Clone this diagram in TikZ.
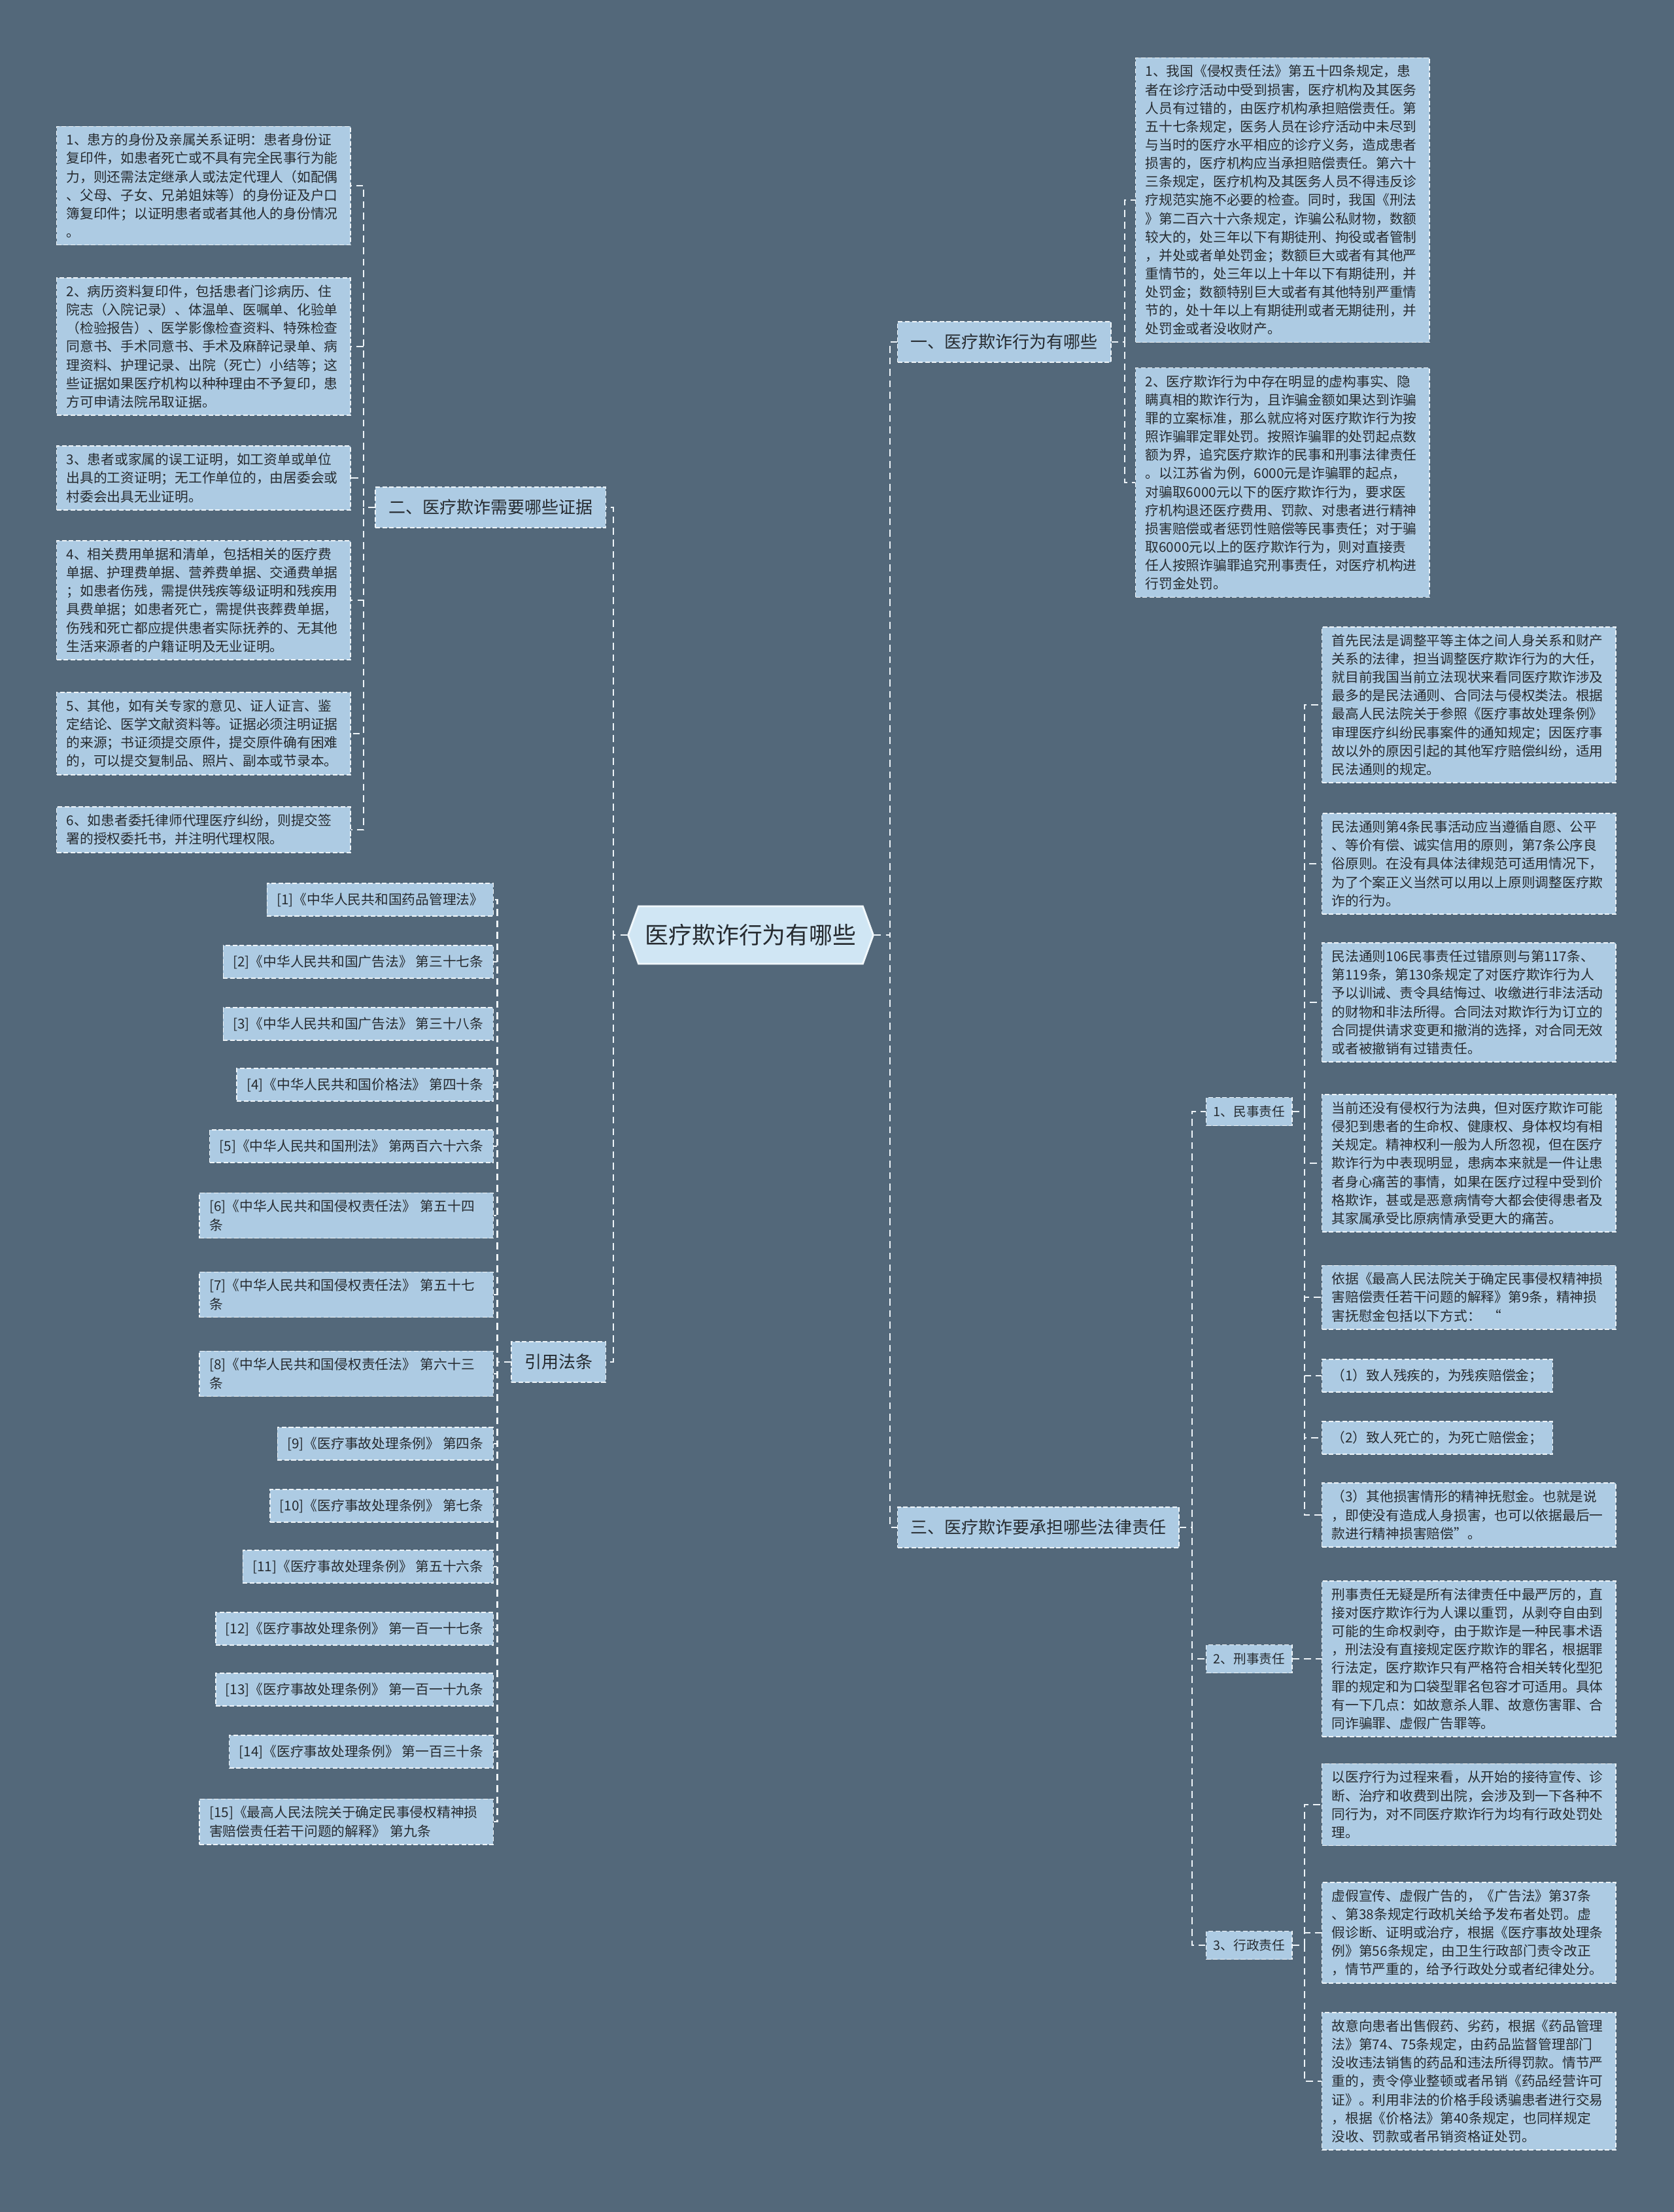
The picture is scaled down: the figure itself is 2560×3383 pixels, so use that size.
\documentclass[tikz,border=0pt]{standalone}
\usepackage{fontspec}
\setmainfont{Noto Sans CJK SC}
\definecolor{bgcol}{HTML}{53687A}
\definecolor{boxfill}{HTML}{ADCBE3}
\definecolor{rootfill}{HTML}{D0E6F4}
\definecolor{txtcol}{HTML}{262B30}
\definecolor{linkcol}{HTML}{EEF4F8}
\usetikzlibrary{positioning, shapes.symbols}

\begin{document}
\begin{tikzpicture}[x=0.01cm, y=-0.01cm,
  rootnode/.style={signal, signal to=west and east, signal pointer angle=140,
                   fill=rootfill, draw=white!70!rootfill, line width=0.8pt, text=txtcol,
                   font=\fontsize{10.2}{12}\selectfont, minimum width=3.6cm,
                   minimum height=0.88cm, inner xsep=0.1cm},
  branch/.style={draw=linkcol, dash pattern=on 2pt off 1pt, line width=0.4pt,
                 fill=boxfill, text=txtcol, font=\fontsize{7.4}{9}\selectfont,
                 minimum height=0.62cm, inner xsep=0.2cm},
  subbranch/.style={branch, font=\fontsize{5.6}{7}\selectfont,
                    minimum height=0.43cm, inner xsep=0.11cm, anchor=west},
  leaf/.style={draw=linkcol, dash pattern=on 2pt off 1pt, line width=0.4pt,
               fill=boxfill, text=txtcol, font=\fontsize{5.9}{8}\selectfont,
               align=left, text width=4.19cm, inner xsep=0.15cm, inner ysep=0.11cm},
  shortleaf/.style={leaf, text width=, minimum height=0.5cm},
  link/.style={draw=linkcol, line width=0.6pt, dash pattern=on 3pt off 2pt},
]
\path[fill=bgcol, use as bounding box] (0,0) rectangle (2560,3383);

\node[rootnode] (root) at (1148,1430) {医疗欺诈行为有哪些};

\node[branch, anchor=west] (b1) at (1372,523) {一、医疗欺诈行为有哪些};
\node[branch, anchor=east] (b2) at (927,776) {二、医疗欺诈需要哪些证据};
\node[branch, anchor=east] (b4) at (927,2083) {引用法条};
\node[branch, anchor=west] (b3) at (1372,2336) {三、医疗欺诈要承担哪些法律责任};

\node[leaf, anchor=west] (r1) at (1736,306) {
1、我国《侵权责任法》第五十四条规定，患\\
者在诊疗活动中受到损害，医疗机构及其医务\\
人员有过错的，由医疗机构承担赔偿责任。第\\
五十七条规定，医务人员在诊疗活动中未尽到\\
与当时的医疗水平相应的诊疗义务，造成患者\\
损害的，医疗机构应当承担赔偿责任。第六十\\
三条规定，医疗机构及其医务人员不得违反诊\\
疗规范实施不必要的检查。同时，我国《刑法\\
》第二百六十六条规定，诈骗公私财物，数额\\
较大的，处三年以下有期徒刑、拘役或者管制\\
，并处或者单处罚金；数额巨大或者有其他严\\
重情节的，处三年以上十年以下有期徒刑，并\\
处罚金；数额特别巨大或者有其他特别严重情\\
节的，处十年以上有期徒刑或者无期徒刑，并\\
处罚金或者没收财产。};
\node[leaf, anchor=west] (r2) at (1736,738) {
2、医疗欺诈行为中存在明显的虚构事实、隐\\
瞒真相的欺诈行为，且诈骗金额如果达到诈骗\\
罪的立案标准，那么就应将对医疗欺诈行为按\\
照诈骗罪定罪处罚。按照诈骗罪的处罚起点数\\
额为界，追究医疗欺诈的民事和刑事法律责任\\
。以江苏省为例，6000元是诈骗罪的起点，\\
对骗取6000元以下的医疗欺诈行为，要求医\\
疗机构退还医疗费用、罚款、对患者进行精神\\
损害赔偿或者惩罚性赔偿等民事责任；对于骗\\
取6000元以上的医疗欺诈行为，则对直接责\\
任人按照诈骗罪追究刑事责任，对医疗机构进\\
行罚金处罚。};

\node[leaf, anchor=west] (l1) at (86,284) {
1、患方的身份及亲属关系证明：患者身份证\\
复印件，如患者死亡或不具有完全民事行为能\\
力，则还需法定继承人或法定代理人（如配偶\\
、父母、子女、兄弟姐妹等）的身份证及户口\\
簿复印件；以证明患者或者其他人的身份情况\\
。};
\node[leaf, anchor=west] (l2) at (86,530) {
2、病历资料复印件，包括患者门诊病历、住\\
院志（入院记录）、体温单、医嘱单、化验单\\
（检验报告）、医学影像检查资料、特殊检查\\
同意书、手术同意书、手术及麻醉记录单、病\\
理资料、护理记录、出院（死亡）小结等；这\\
些证据如果医疗机构以种种理由不予复印，患\\
方可申请法院吊取证据。};
\node[leaf, anchor=west] (l3) at (86,731) {
3、患者或家属的误工证明，如工资单或单位\\
出具的工资证明；无工作单位的，由居委会或\\
村委会出具无业证明。};
\node[leaf, anchor=west] (l4) at (86,918) {
4、相关费用单据和清单，包括相关的医疗费\\
单据、护理费单据、营养费单据、交通费单据\\
；如患者伤残，需提供残疾等级证明和残疾用\\
具费单据；如患者死亡，需提供丧葬费单据，\\
伤残和死亡都应提供患者实际抚养的、无其他\\
生活来源者的户籍证明及无业证明。};
\node[leaf, anchor=west] (l5) at (86,1122) {
5、其他，如有关专家的意见、证人证言、鉴\\
定结论、医学文献资料等。证据必须注明证据\\
的来源；书证须提交原件，提交原件确有困难\\
的，可以提交复制品、照片、副本或节录本。};
\node[leaf, anchor=west] (l6) at (86,1269) {
6、如患者委托律师代理医疗纠纷，则提交签\\
署的授权委托书，并注明代理权限。};

\node[shortleaf, anchor=east] (f1) at (755,1376) {[1]《中华人民共和国药品管理法》};
\node[shortleaf, anchor=east] (f2) at (755,1471) {[2]《中华人民共和国广告法》 第三十七条};
\node[shortleaf, anchor=east] (f3) at (755,1566) {[3]《中华人民共和国广告法》 第三十八条};
\node[shortleaf, anchor=east] (f4) at (755,1659) {[4]《中华人民共和国价格法》 第四十条};
\node[shortleaf, anchor=east] (f5) at (755,1753) {[5]《中华人民共和国刑法》 第两百六十六条};
\node[leaf, anchor=east] (f6) at (755,1859) {[6]《中华人民共和国侵权责任法》 第五十四\\条};
\node[leaf, anchor=east] (f7) at (755,1980) {[7]《中华人民共和国侵权责任法》 第五十七\\条};
\node[leaf, anchor=east] (f8) at (755,2101) {[8]《中华人民共和国侵权责任法》 第六十三\\条};
\node[shortleaf, anchor=east] (f9) at (755,2208) {[9]《医疗事故处理条例》 第四条};
\node[shortleaf, anchor=east] (f10) at (755,2303) {[10]《医疗事故处理条例》 第七条};
\node[shortleaf, anchor=east] (f11) at (755,2396) {[11]《医疗事故处理条例》 第五十六条};
\node[shortleaf, anchor=east] (f12) at (755,2491) {[12]《医疗事故处理条例》 第一百一十七条};
\node[shortleaf, anchor=east] (f13) at (755,2584) {[13]《医疗事故处理条例》 第一百一十九条};
\node[shortleaf, anchor=east] (f14) at (755,2679) {[14]《医疗事故处理条例》 第一百三十条};
\node[leaf, anchor=east] (f15) at (755,2786) {[15]《最高人民法院关于确定民事侵权精神损\\害赔偿责任若干问题的解释》 第九条};

\node[subbranch] (s1) at (1844,1700) {1、民事责任};
\node[subbranch] (s2) at (1844,2537) {2、刑事责任};
\node[subbranch] (s3) at (1844,2975) {3、行政责任};

\node[leaf, anchor=west] (m1) at (2021,1078) {
首先民法是调整平等主体之间人身关系和财产\\
关系的法律，担当调整医疗欺诈行为的大任，\\
就目前我国当前立法现状来看同医疗欺诈涉及\\
最多的是民法通则、合同法与侵权类法。根据\\
最高人民法院关于参照《医疗事故处理条例》\\
审理医疗纠纷民事案件的通知规定；因医疗事\\
故以外的原因引起的其他军疗赔偿纠纷，适用\\
民法通则的规定。};
\node[leaf, anchor=west] (m2) at (2021,1321) {
民法通则第4条民事活动应当遵循自愿、公平\\
、等价有偿、诚实信用的原则，第7条公序良\\
俗原则。在没有具体法律规范可适用情况下，\\
为了个案正义当然可以用以上原则调整医疗欺\\
诈的行为。};
\node[leaf, anchor=west] (m3) at (2021,1533) {
民法通则106民事责任过错原则与第117条、\\
第119条，第130条规定了对医疗欺诈行为人\\
予以训诫、责令具结悔过、收缴进行非法活动\\
的财物和非法所得。合同法对欺诈行为订立的\\
合同提供请求变更和撤消的选择，对合同无效\\
或者被撤销有过错责任。};
\node[leaf, anchor=west] (m4) at (2021,1779) {
当前还没有侵权行为法典，但对医疗欺诈可能\\
侵犯到患者的生命权、健康权、身体权均有相\\
关规定。精神权利一般为人所忽视，但在医疗\\
欺诈行为中表现明显，患病本来就是一件让患\\
者身心痛苦的事情，如果在医疗过程中受到价\\
格欺诈，甚或是恶意病情夸大都会使得患者及\\
其家属承受比原病情承受更大的痛苦。};
\node[leaf, anchor=west] (m5) at (2021,1984) {
依据《最高人民法院关于确定民事侵权精神损\\
害赔偿责任若干问题的解释》第9条，精神损\\
害抚慰金包括以下方式：\enspace“};
\node[shortleaf, anchor=west] (m6) at (2021,2104) {（1）致人残疾的，为残疾赔偿金；};
\node[shortleaf, anchor=west] (m7) at (2021,2199) {（2）致人死亡的，为死亡赔偿金；};
\node[leaf, anchor=west] (m8) at (2021,2317) {
（3）其他损害情形的精神抚慰金。也就是说\\
，即使没有造成人身损害，也可以依据最后一\\
款进行精神损害赔偿”。};

\node[leaf, anchor=west] (k1) at (2021,2537) {
刑事责任无疑是所有法律责任中最严厉的，直\\
接对医疗欺诈行为人课以重罚，从剥夺自由到\\
可能的生命权剥夺，由于欺诈是一种民事术语\\
，刑法没有直接规定医疗欺诈的罪名，根据罪\\
行法定，医疗欺诈只有严格符合相关转化型犯\\
罪的规定和为口袋型罪名包容才可适用。具体\\
有一下几点：如故意杀人罪、故意伤害罪、合\\
同诈骗罪、虚假广告罪等。};

\node[leaf, anchor=west] (x1) at (2021,2760) {
以医疗行为过程来看，从开始的接待宣传、诊\\
断、治疗和收费到出院，会涉及到一下各种不\\
同行为，对不同医疗欺诈行为均有行政处罚处\\
理。};
\node[leaf, anchor=west] (x2) at (2021,2956) {
虚假宣传、虚假广告的，《广告法》第37条\\
、第38条规定行政机关给予发布者处罚。虚\\
假诊断、证明或治疗，根据《医疗事故处理条\\
例》第56条规定，由卫生行政部门责令改正\\
，情节严重的，给予行政处分或者纪律处分。};
\node[leaf, anchor=west] (x3) at (2021,3183) {
故意向患者出售假药、劣药，根据《药品管理\\
法》第74、75条规定，由药品监督管理部门\\
没收违法销售的药品和违法所得罚款。情节严\\
重的，责令停业整顿或者吊销《药品经营许可\\
证》。利用非法的价格手段诱骗患者进行交易\\
，根据《价格法》第40条规定，也同样规定\\
没收、罚款或者吊销资格证处罚。};

\draw[link] (root.east) -- ++(24,0) |- (b1.west);
\draw[link] (root.east) -- ++(24,0) |- (b3.west);
\draw[link] (root.west) -- ++(-21,0) |- (b2.east);
\draw[link] (root.west) -- ++(-21,0) |- (b4.east);
\foreach \n in {r1,r2}
  \draw[link] (b1.east) -- ++(20,0) |- (\n.west);
\foreach \n in {l1,l2,l3,l4,l5,l6}
  \draw[link] (b2.west) -- ++(-17,0) |- (\n.east);
\foreach \n in {1,...,15}
  \draw[link] (b4.west) -- ++(-21,0) |- (f\n.east);
\foreach \n in {s1,s2,s3}
  \draw[link] (b3.east) -- ++(19,0) |- (\n.west);
\foreach \n in {1,...,8}
  \draw[link] (s1.east) -- ++(18,0) |- (m\n.west);
\draw[link] (s2.east) -- (k1.west);
\foreach \n in {1,2,3}
  \draw[link] (s3.east) -- ++(18,0) |- (x\n.west);
\end{tikzpicture}
\end{document}
